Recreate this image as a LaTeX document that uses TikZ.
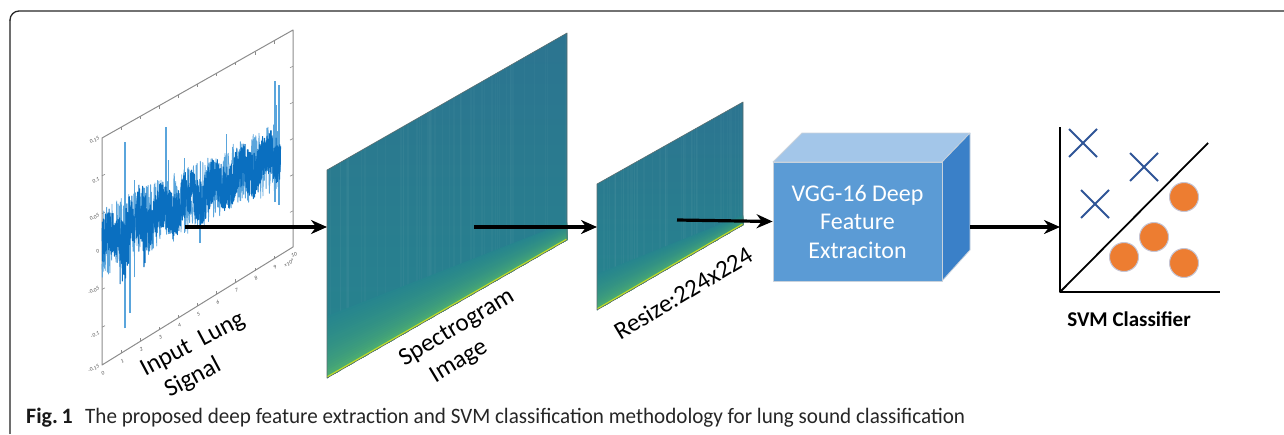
\documentclass[tikz,border=0pt]{standalone}
\usepackage{fontspec}
\usepackage{graphicx}
\setmainfont{Carlito}
\usetikzlibrary{arrows.meta}
\definecolor{sigblue}{HTML}{0A6FC0}
\definecolor{siglight}{HTML}{5AA5DC}
\definecolor{spectop}{HTML}{2C7490}
\definecolor{specbot}{HTML}{26858E}
\definecolor{specgreen}{HTML}{6CCD5A}
\definecolor{specyellow}{HTML}{C6E023}
\definecolor{specedge}{HTML}{5A6E70}
\definecolor{vggfront}{HTML}{5B9BD5}
\definecolor{vggtop}{HTML}{A3C6E9}
\definecolor{vggside}{HTML}{3A80C8}
\definecolor{vggedge}{HTML}{C9D2DC}
\definecolor{crossblue}{HTML}{2F5597}
\definecolor{dotorange}{HTML}{ED7D31}
\definecolor{axgray}{HTML}{8C8C8C}
\definecolor{frametop}{HTML}{262626}
\definecolor{frameleft}{HTML}{6E6E6E}

\newcommand\specimg[8]{%
  \begin{scope}
    \clip (#1,#2) -- (#4,#5) -- (#4,#6) -- (#1,#3) -- cycle;
    \shade[top color=spectop, bottom color=specbot] (#1,#5) rectangle (#4,#3);
    \foreach \i in {1,...,45}{%
      \pgfmathsetmacro\xx{#1+(#4-#1)*rnd}%
      \pgfmathsetmacro\ww{0.5+1.5*rnd}%
      \draw[white, opacity=0.025, line width=\ww pt] (\xx,#5) -- (\xx,#3);
    }
    \foreach \k in {24,...,1}{%
      \pgfmathsetmacro\f{\k/24}%
      \pgfmathtruncatemacro\p{100*(\f^0.3)}%
      \fill[specbot!\p!specgreen] (#1,#3) -- (#1,{#3-#7*\f}) -- (#4,{#6-#8*\f}) -- (#4,#6) -- cycle;
    }
    \draw[specyellow, line width=3pt] (#1,#3) -- (#4,#6);
  \end{scope}
  \draw[specedge, line width=0.6pt] (#1,#2) -- (#4,#5) -- (#4,#6) -- (#1,#3) -- cycle;
}

\begin{document}
\begin{tikzpicture}[x=1pt, y=-1pt, line join=round,
  declare function={sx(\t)=102+19.1*\t; sy(\t,\v)=138-10.79*\t+(0.15-\v)/0.3*(227-1.01*\t);},
  flow/.style={line width=3.2pt, -{Stealth[length=16pt,width=14pt]}},
  lbl/.style={font=\fontsize{25}{28}\selectfont, inner sep=0pt},
  tick/.style={font=\fontsize{5.5}{6}\selectfont\itshape, text=black!70, inner sep=0pt},
  axisline/.style={axgray, line width=1pt},
  cross/.style={crossblue, line width=2pt},
  dot/.style={circle, fill=dotorange, draw=blue!15!gray!40, line width=1pt, minimum size=29pt, inner sep=0pt},
  svmaxis/.style={black, line width=2pt}]
\useasboundingbox (0,0) rectangle (1284,434);

% frame
\draw[frameleft, line width=1.3pt] (10,434) -- (10,20);
\draw[frametop, line width=1.3pt, rounded corners=9pt] (10,20.5) -- (10,11) -- (1284,11);

% ---------- signal plot ----------
\pgfmathsetseed{17}
\draw[axisline] (102,138) -- (102,365) -- (293,247) -- (293,30) -- cycle;
\foreach \t in {1,...,9}{
  \draw[axisline, line width=0.6pt] ({sx(\t)},{sy(\t,-0.15)}) -- ({sx(\t)},{sy(\t,-0.15)-3});
  \draw[axisline, line width=0.6pt] ({sx(\t)},{sy(\t,0.15)}) -- ({sx(\t)},{sy(\t,0.15)+3});
}
\foreach \v in {-0.1,-0.05,0,0.05,0.1}{
  \draw[axisline, line width=0.6pt] ({sx(0)},{sy(0,\v)}) -- ({sx(0)+3},{sy(0,\v)-1.5});
  \draw[axisline, line width=0.6pt] ({sx(10)},{sy(10,\v)}) -- ({sx(10)-3},{sy(10,\v)+1.5});
}
\foreach \lab/\yy in {0.15/138,0.1/179,0.05/215,0/251,-0.05/288,-0.1/333,-0.15/366}{
  \node[tick, anchor=east, rotate=25] (tl\yy) at (99,\yy) {\lab};
}
\foreach \t in {0,...,10}{
  \node[tick, rotate=25] (tb\t) at ({sx(\t)+1},{sy(\t,-0.15)+8}) {\t};
}
\node[tick, rotate=25] (texp) at (289,263) {×10\textsuperscript{4}};

% signal: light layer, spikes, dense layer
\draw[siglight, line width=0.8pt] plot[domain=0:9.35, samples=500, variable=\t]
  ({sx(\t)},{sy(\t, 0.012-0.0025*\t + 0.047*rand)});
\foreach \t/\a/\b in {1.2/-0.12/0.128, 1.47/-0.104/0.04, 1.7/-0.06/0.07, 3.35/-0.02/0.116, 3.5/-0.03/0.07,
  5.13/-0.067/0.02, 4.3/-0.04/0.06, 6.5/-0.03/0.06, 9.06/-0.073/0.094, 9.27/-0.08/0.085, 9.15/-0.02/0.06}{
  \draw[siglight, line width=1.2pt] ({sx(\t)},{sy(\t,\a)}) -- ({sx(\t)},{sy(\t,\b)});
}
\draw[sigblue, line width=1pt] plot[domain=0:9.35, samples=1200, variable=\t]
  ({sx(\t)},{sy(\t, 0.010-0.0022*\t + 0.012*sin(\t*260) + 0.031*rand + 0.025*(\t>0.9)*(\t<2.3)*rand)});
\coordinate (sigout) at (185,227);

% ---------- spectrograms ----------
\pgfmathsetseed{5}
\specimg{327}{170}{378}{567}{33}{240}{62}{18}
\coordinate (spec1in) at (327,227);
\coordinate (spec1out) at (474,227);
\specimg{597}{184}{310}{743}{102}{225}{36}{10}
\coordinate (spec2in) at (597,227);
\coordinate (spec2out) at (677,220);

% ---------- VGG cube ----------
\fill[vggtop, draw=vggedge, line width=0.8pt] (773,162) -- (802,133) -- (970,133) -- (942,162) -- cycle;
\fill[vggside, draw=vggedge, line width=0.8pt] (942,162) -- (970,133) -- (970,250) -- (942,281) -- cycle;
\node[fill=vggfront, draw=vggedge, line width=0.8pt, minimum width=169pt, minimum height=119pt,
  text=white, align=center, font=\fontsize{24}{28.5}\selectfont, inner sep=0pt] (vgg) at (857.5,221.5)
  {VGG-16 Deep\\Feature\\Extraciton};
\coordinate (vggout) at (970,227);

% ---------- SVM ----------
\coordinate (svmorigin) at (1060,292);
\coordinate (svmin) at (1060,227);
\draw[svmaxis] (1060,127) -- (svmorigin) -- (1220,292);
\draw[black, line width=1.8pt] (svmorigin) -- (1208,143);
\foreach \cx/\cy in {1083/143, 1144/167, 1095/204}{
  \draw[cross] (\cx-14,\cy-14) -- (\cx+14,\cy+14);
  \draw[cross] (\cx-14,\cy+14) -- (\cx+14,\cy-14);
}
\node[dot] (d1) at (1184,197) {};
\node[dot] (d2) at (1154,237) {};
\node[dot] (d3) at (1124,257) {};
\node[dot] (d4) at (1184,263) {};
\node[font=\bfseries\fontsize{21}{24}\selectfont, inner sep=0pt] (svmlbl) at (1129,319) {SVM Classifier};

% ---------- arrows ----------
\draw[flow] (sigout) -- (spec1in);
\draw[flow] (spec1out) -- (spec2in);
\draw[flow] (spec2out) -- (vgg.west);
\draw[flow] (vggout) -- (svmin);

% ---------- labels ----------
\node[lbl, rotate=28] (inl) at (193,345) {Input\ \ Lung};
\node[lbl, rotate=28] (sigl) at (193,378) {Signal};
\node[lbl, rotate=31] (spl) at (457,328) {Spectrogram};
\node[lbl, rotate=31] (iml) at (459,362) {Image};
\node[lbl, rotate=31] (rsz) at (683,293) {Resize:224x224};

% ---------- caption ----------
\node[anchor=base west, inner sep=0pt, font=\bfseries\fontsize{22}{26}\selectfont, text=black!90] (figlbl) at (26,423) {Fig.\,1};
\node[anchor=base west, inner sep=0pt, text=black!85] (captxt) at (85,423)
  {\resizebox{880pt}{\height}{\fontsize{22}{26}\selectfont The proposed deep feature extraction and SVM classification methodology for lung sound classification}};
\end{tikzpicture}
\end{document}
